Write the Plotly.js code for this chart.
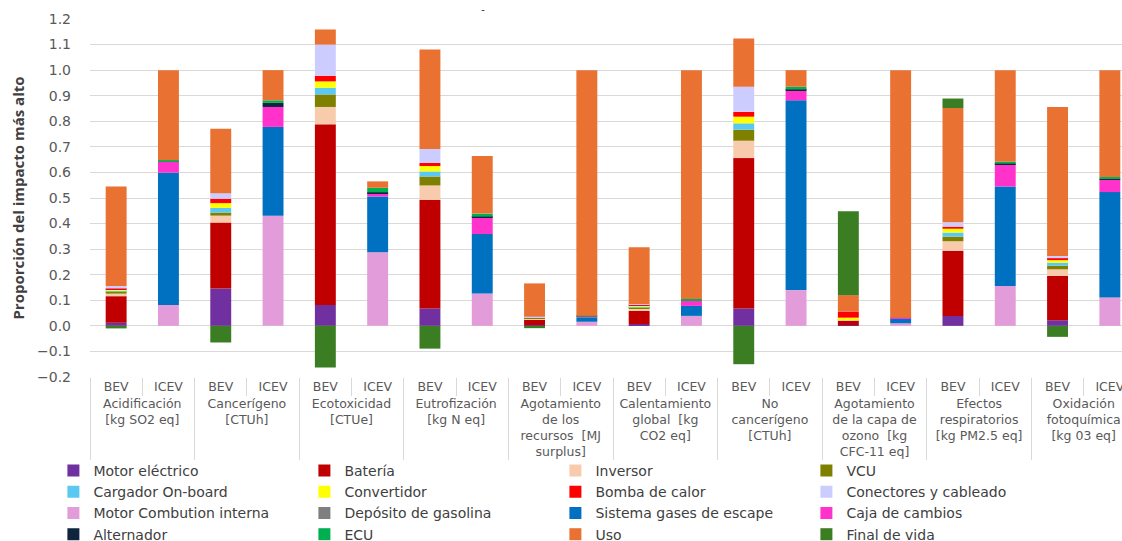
<!DOCTYPE html>
<html>
<head>
<meta charset="utf-8">
<script src="https://cdn.plot.ly/plotly-3.0.1.min.js"></script>
<style>
html,body{margin:0;padding:0;overflow:hidden;background:#fff;}
#chart{width:1150px;height:541px;}
</style>
</head>
<body>
<div id="chart"></div>
<script>
// Categories
var groups = [
  "Acidificación<br>[kg SO2 eq]",
  "Cancerígeno<br>[CTUh]",
  "Ecotoxicidad<br>[CTUe]",
  "Eutrofización<br>[kg N eq]",
  "Agotamiento<br>de los<br>recursos  [MJ<br>surplus]",
  "Calentamiento<br>global  [kg<br>CO2 eq]",
  "No<br>cancerígeno<br>[CTUh]",
  "Agotamiento<br>de la capa de<br>ozono  [kg<br>CFC-11 eq]",
  "Efectos<br>respiratorios<br>[kg PM2.5 eq]",
  "Oxidación<br>fotoquímica<br>[kg 03 eq]"
];
var vehicles = ["BEV", "ICEV"];

// Series values (order: for each group, BEV then ICEV)
var motorElectrico  = [0.012,0, 0.146,0, 0.082,0, 0.068,0, 0.003,0, 0.007,0, 0.068,0, 0.002,0, 0.039,0, 0.022,0];
var bateria         = [0.104,0, 0.258,0, 0.706,0, 0.425,0, 0.023,0, 0.052,0, 0.588,0, 0.020,0, 0.255,0, 0.173,0];
var inversor        = [0.010,0, 0.027,0, 0.068,0, 0.056,0, 0.003,0, 0.008,0, 0.068,0, 0.002,0, 0.037,0, 0.026,0];
var vcu             = [0.008,0, 0.012,0, 0.049,0, 0.035,0, 0.002,0, 0.004,0, 0.043,0, 0.001,0, 0.018,0, 0.014,0];
var cargador        = [0.004,0, 0.018,0, 0.026,0, 0.020,0, 0.001,0, 0.004,0, 0.025,0, 0.001,0, 0.016,0, 0.012,0];
var convertidor     = [0.004,0, 0.019,0, 0.025,0, 0.021,0, 0.001,0, 0.004,0, 0.026,0, 0.006,0, 0.015,0, 0.010,0];
var bombaCalor      = [0.004,0, 0.017,0, 0.022,0, 0.012,0, 0.001,0, 0.003,0, 0.019,0, 0.024,0, 0.008,0, 0.008,0];
var conectores      = [0.010,0, 0.022,0, 0.122,0, 0.055,0, 0.002,0, 0.003,0, 0.098,0, 0,0, 0.017,0, 0.008,0];
var motorCombustion = [0,0.082, 0,0.431, 0,0.288, 0,0.127, 0,0.016, 0,0.039, 0,0.140, 0,0.010, 0,0.156, 0,0.111];
var deposito        = [0,0, 0,0, 0,0, 0,0, 0,0, 0,0, 0,0, 0,0, 0,0, 0,0];
var gasesEscape     = [0,0.517, 0,0.347, 0,0.218, 0,0.232, 0,0.015, 0,0.039, 0,0.742, 0,0.020, 0,0.389, 0,0.412];
var cajaCambios     = [0,0.043, 0,0.078, 0,0.013, 0,0.065, 0,0.007, 0,0.023, 0,0.037, 0,0.002, 0,0.086, 0,0.048];
var alternador      = [0,0.002, 0,0.016, 0,0.003, 0,0.003, 0,0, 0,0, 0,0.005, 0,0, 0,0.003, 0,0.003];
var ecu             = [0,0.004, 0,0.010, 0,0.018, 0,0.012, 0,0.002, 0,0.004, 0,0.011, 0,0, 0,0.008, 0,0.008];
var uso             = [0.389,0.352, 0.252,0.118, 0.059,0.025, 0.389,0.225, 0.130,0.960, 0.222,0.895, 0.189,0.065, 0.064,0.968, 0.447,0.358, 0.583,0.418];
var finalVida       = [-0.010,0, -0.065,0, -0.163,0, -0.089,0, -0.009,0, 0,0, -0.150,0, 0.328,0, 0.037,0, -0.043,0];

var seriesNames = ["Motor eléctrico","Batería","Inversor","VCU","Cargador On-board","Convertidor","Bomba de calor","Conectores y cableado","Motor Combution interna","Depósito de gasolina","Sistema gases de escape","Caja de cambios","Alternador","ECU","Uso","Final de vida"];
var seriesValues = [motorElectrico,bateria,inversor,vcu,cargador,convertidor,bombaCalor,conectores,motorCombustion,deposito,gasesEscape,cajaCambios,alternador,ecu,uso,finalVida];
var seriesColors = ["#7030A0","#C00000","#F8CBAD","#808000","#5BC8F2","#FFFF00","#FF0000","#CCCCFF","#E39CDA","#7F7F7F","#0070C0","#FF33CC","#0F243E","#00B050","#E97132","#3B7D23"];

var xOuter = [], xInner = [];
groups.forEach(function(g){ vehicles.forEach(function(v){ xOuter.push(g); xInner.push(v); }); });

var traces = seriesNames.map(function(name, i){
  return {
    type: 'bar', name: name,
    x: [xOuter, xInner], y: seriesValues[i],
    marker: {color: seriesColors[i], line: {width: 0}},
    hoverinfo: 'name+y'
  };
});

var layout = {
  width: 1150, height: 541,
  margin: {l: 90, r: 14, t: 19, b: 164},
  barmode: 'relative',
  bargap: 0.6,
  paper_bgcolor: '#fff', plot_bgcolor: '#fff',
  font: {family: '"DejaVu Sans", sans-serif', color: '#595959'},
  title: {text: '-', font: {size: 10, color: '#333'}, x: 483/1150, xanchor: 'center', y: 1 - 9/541, yanchor: 'middle'},
  showlegend: true,
  xaxis: {
    type: 'multicategory',
    tickfont: {size: 12.5, color: '#595959'},
    showdividers: true, dividercolor: '#d9d9d9', dividerwidth: 1,
    ticks: 'outside', ticklen: 18, tickcolor: '#d9d9d9',
    showline: false, showgrid: false
  },
  yaxis: {
    range: [-0.2, 1.2], dtick: 0.1, tickformat: '.1f',
    gridcolor: '#d9d9d9', zeroline: false, showline: false,
    tickfont: {size: 14, color: '#595959'},
    ticklabelstandoff: 18,
    title: {text: 'Proporción del impacto más alto', font: {family: '"Open Sans", sans-serif', size: 15, color: '#404040', weight: 'bold'}, standoff: 8}
  },
  legend: {
    orientation: 'h', xref: 'container', x: 53.4/1150, xanchor: 'left',
    yref: 'container', y: 1 - 455/541, yanchor: 'top',
    entrywidth: 206, entrywidthmode: 'pixels',
    font: {size: 14, color: '#404040'}, traceorder: 'normal',
    bgcolor: 'rgba(0,0,0,0)'
  }
};

Plotly.newPlot('chart', traces, layout, {displayModeBar: false, responsive: false});
</script>
</body>
</html>
